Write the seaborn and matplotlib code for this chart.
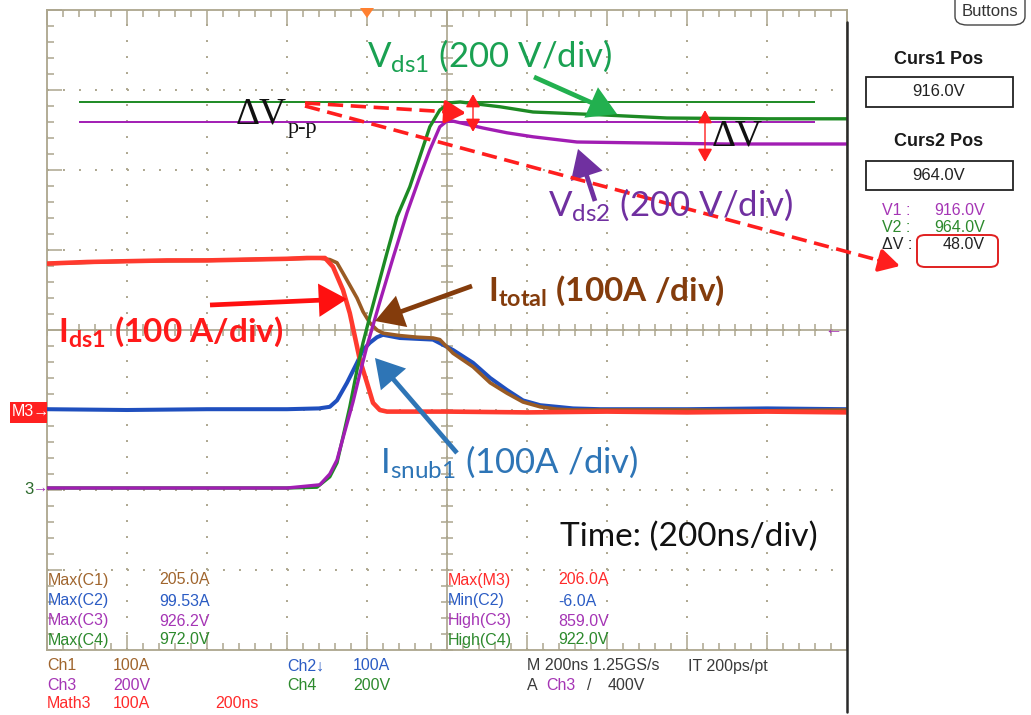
import numpy as np
import pandas as pd
import matplotlib
matplotlib.use("Agg")
import matplotlib.pyplot as plt
import seaborn as sns
from matplotlib.ticker import MultipleLocator
from matplotlib.patches import FancyArrowPatch, FancyBboxPatch, Rectangle, Polygon
from matplotlib.lines import Line2D

# ---------------- data ----------------
# time in ns (200 ns/div, trigger-centred), currents in A, voltages in V
t_ids1 = [-1000, -900, -800, -700, -600, -500, -400, -350, -305, -285, -260, -243, -230,
          -218, -200, -185, -168, -150, -100, 0, 200, 400, 600, 800, 1000]
i_ids1 = [183, 185, 186, 187, 187, 188, 189, 190, 190, 179, 150, 121, 91,
          63, 34, 9, 0, -2, -2, -2, -3, -2, -3, -2, -3]

t_itot = [-1000, -800, -600, -400, -320, -293, -275, -260, -243, -225, -210, -193, -175,
          -160, -118, -75, -35, -18, 15, 65, 108, 150, 190, 233, 275, 315, 400, 600, 800, 1000]
i_itot = [183, 186, 187, 189, 190, 188, 184, 171, 156, 140, 123, 109, 100,
          96, 93, 91, 90, 88, 71, 54, 34, 21, 10, 4, 1, 0, 0, 0, -1, 0]

t_isnub = [-1000, -800, -600, -400, -320, -293, -275, -250, -225, -210, -193, -175, -160,
           -118, -35, 15, 65, 108, 150, 190, 233, 275, 315, 383, 600, 800, 1000]
i_isnub = [1, 0, 1, 1, 2, 4, 12, 34, 59, 75, 84, 91, 94,
           90, 88, 75, 59, 40, 25, 12, 6, 4, 2, 1, 1, 2, 1]

t_vds1 = [-1000, -800, -600, -400, -325, -293, -275, -260, -243, -225, -210, -193, -175,
          -150, -125, -93, -68, -43, -18, 8, 33, 133, 215, 383, 550, 800, 1000]
v_vds1 = [0, 0, 0, 0, 2, 28, 63, 128, 203, 295, 363, 428, 495,
          588, 678, 753, 828, 903, 945, 963, 965, 953, 940, 933, 925, 923, 923]

t_vds2 = [-1000, -800, -600, -400, -318, -293, -275, -260, -235, -218, -200, -168, -135,
          -100, -68, -43, -18, 3, 33, 90, 150, 215, 325, 465, 700, 1000]
v_vds2 = [0, 0, 0, 0, 8, 35, 70, 125, 215, 285, 355, 465, 575,
          688, 778, 845, 903, 920, 913, 900, 888, 878, 865, 863, 860, 860]

cursor_volts = [916.0, 964.0]          # Curs1 (Vds2), Curs2 (Vds1)
cursor_span = [-920, 920]              # ns

meas_left_labels = ["Max(C1)", "Max(C2)", "Max(C3)", "Max(C4)"]
meas_left_values = ["205.0A", "99.53A", "926.2V", "972.0V"]
meas_right_labels = ["Max(M3)", "Min(C2)", "High(C3)", "High(C4)"]
meas_right_values = ["206.0A", "-6.0A", "859.0V", "922.0V"]

# ---------------- style ----------------
sns.set_theme(style="white")
plt.rcParams.update({
    "lines.scale_dashes": False,
    "mathtext.fontset": "custom",
    "mathtext.rm": "Lato",
    "mathtext.bf": "Lato:bold",
    "mathtext.it": "Lato:italic",
})
plt.rcParams["font.family"] = ["Lato", "DejaVu Sans"]

GRID = "#aca68e"
C_RED, C_BROWN, C_BLUE, C_GREEN, C_PURPLE = "#ff3a2e", "#9a5b24", "#1f4fbe", "#1d8a24", "#a11db3"
L_GREEN, L_PURPLE, L_BROWN, L_RED, L_BLUE = "#1aa152", "#7030a0", "#843c0c", "#ff1a1a", "#2e75b6"
S_BROWN, S_BLUE, S_PURPLE, S_GREEN, S_RED = "#a0652d", "#2b5cc4", "#a535b5", "#2d8a2d", "#ff2a2a"
SCOPE_FONT = ["Liberation Sans", "DejaVu Sans"]

W, H = 1031, 715
fig = plt.figure(figsize=(W / 100, H / 100), dpi=100)
fig.patch.set_facecolor("white")


def fp(x, y):
    return (x / W, 1 - y / H)


# ---------------- scope grid ----------------
ax = fig.add_axes([47 / W, 1 - 650 / H, 800 / W, 640 / H])
ax.set_facecolor("white")
ax.set_xlim(-1000, 1000)
ax.set_ylim(-300, 500)
ax.xaxis.set_major_locator(MultipleLocator(200))
ax.xaxis.set_minor_locator(MultipleLocator(40))
ax.yaxis.set_major_locator(MultipleLocator(100))
ax.yaxis.set_minor_locator(MultipleLocator(20))
ax.tick_params(which="both", direction="in", top=True, right=True, bottom=True, left=True,
               labelbottom=False, labelleft=False, color=GRID, width=1.1)
ax.tick_params(which="major", length=11)
ax.tick_params(which="minor", length=5)
for s in ax.spines.values():
    s.set_color(GRID)
    s.set_linewidth(1.3)
ax.grid(True, which="major", color=GRID, linestyle=(0, (1.4, 10.12)), linewidth=1.4)
ax.axhline(100, color=GRID, lw=1.2, zorder=1)
ax.axvline(0, color=GRID, lw=1.2, zorder=1)
xt = np.arange(-1000, 1001, 40)
yt = np.arange(-300, 501, 20)
ax.plot(xt, np.full(len(xt), 100), ls="none", marker="|", ms=9, mew=1.1, color=GRID, zorder=1)
ax.plot(np.zeros(len(yt)), yt, ls="none", marker="_", ms=9, mew=1.1, color=GRID, zorder=1)

# ---------------- traces ----------------
sns.lineplot(x=t_isnub, y=i_isnub, ax=ax, color=C_BLUE, lw=2.9, estimator=None, sort=False, zorder=3)
sns.lineplot(x=t_itot, y=i_itot, ax=ax, color=C_BROWN, lw=2.6, estimator=None, sort=False, zorder=4)
sns.lineplot(x=t_ids1, y=i_ids1, ax=ax, color=C_RED, lw=3.3, estimator=None, sort=False, zorder=5)
ax.set_xlim(-1000, 1000)
ax.set_ylim(-300, 500)
ax.set_xlabel("")
ax.set_ylabel("")

axv = ax.twinx()
sns.lineplot(x=t_vds1, y=v_vds1, ax=axv, color=C_GREEN, lw=2.4, estimator=None, sort=False, zorder=3)
sns.lineplot(x=t_vds2, y=v_vds2, ax=axv, color=C_PURPLE, lw=2.4, estimator=None, sort=False, zorder=4)
axv.hlines(cursor_volts[1], cursor_span[0], cursor_span[1], color=C_GREEN, lw=1.4, zorder=2)
axv.hlines(cursor_volts[0], cursor_span[0], cursor_span[1], color=C_PURPLE, lw=1.4, zorder=2)
axv.set_ylim(-405, 1195)
axv.set_xlim(-1000, 1000)
axv.axis("off")

# right dark screen border
fig.add_artist(Line2D([847 / W, 847 / W], [1 - 22 / H, 1 - 712 / H], transform=fig.transFigure,
                      color="#2a2a2a", lw=1.8))

# trigger marker (top) and ground markers
fig.add_artist(Polygon([fp(360, 8), fp(374, 8), fp(367, 18)], closed=True, transform=fig.transFigure,
                       facecolor="#ff8030", edgecolor="none"))
fig.add_artist(Rectangle(fp(10, 423), 37 / W, 21 / H, transform=fig.transFigure,
                         facecolor="#ff2020", edgecolor="none"))
fig.text(*fp(12, 412), "M3\u2192", color="white", fontsize=11.5, va="center", ha="left", family=SCOPE_FONT)
fig.text(*fp(24, 489), "3", color="#2d6a2d", fontsize=12, va="center", ha="left", family=SCOPE_FONT)
fig.text(*fp(33, 488), "\u2192", color=S_PURPLE, fontsize=11, va="center", ha="left", family=SCOPE_FONT)
fig.text(*fp(824, 330), "\u2190", color=S_PURPLE, fontsize=13, va="center", ha="left", family=SCOPE_FONT)

# ---------------- measurement read-outs ----------------
left_cols = [S_BROWN, S_BLUE, S_PURPLE, S_GREEN]
right_cols = [S_RED, S_BLUE, S_PURPLE, S_GREEN]
rows_y = [580, 601, 621, 640]
for lab, val, c, y in zip(meas_left_labels, meas_left_values, left_cols, rows_y):
    fig.text(*fp(48, y), lab, color=c, fontsize=11.5, va="center", family=SCOPE_FONT)
    fig.text(*fp(159, y), val, color=c, fontsize=11.5, va="center", family=SCOPE_FONT)
for lab, val, c, y in zip(meas_right_labels, meas_right_values, right_cols, rows_y):
    fig.text(*fp(448, y), lab, color=c, fontsize=11.5, va="center", family=SCOPE_FONT)
    fig.text(*fp(558, y), val, color=c, fontsize=11.5, va="center", family=SCOPE_FONT)

status = [
    (47, 666, "Ch1", S_BROWN), (113, 666, "100A", S_BROWN),
    (47, 685, "Ch3", S_PURPLE), (113, 685, "200V", S_PURPLE),
    (47, 704, "Math3", S_RED), (113, 704, "100A", S_RED), (215, 704, "200ns", S_RED),
    (287, 666, "Ch2\u2193", S_BLUE), (353, 666, "100A", S_BLUE),
    (287, 685, "Ch4", S_GREEN), (353, 685, "200V", S_GREEN),
    (527, 666, "M 200ns 1.25GS/s", "#3a3a3a"), (688, 666, "IT 200ps/pt", "#3a3a3a"),
    (527, 685, "A", "#3a3a3a"), (546, 685, "Ch3", S_PURPLE), (587, 685, "/", "#3a3a3a"),
    (608, 685, "400V", "#3a3a3a"),
]
for x, y, s, c in status:
    fig.text(*fp(x, y), s, color=c, fontsize=11.5, va="center", family=SCOPE_FONT)

# ---------------- right cursor panel ----------------
fig.add_artist(FancyBboxPatch(fp(955, 25), 70 / W, 40 / H, boxstyle="round,pad=0,rounding_size=0.012",
                              transform=fig.transFigure, facecolor="white", edgecolor="#444444", lw=1.0))
fig.text(*fp(990, 11), "Buttons", color="#333333", fontsize=12, ha="center", va="center", family=SCOPE_FONT)
fig.text(*fp(939, 59), "Curs1 Pos", color="#1a1a1a", fontsize=13, weight="bold", ha="center", va="center",
         family=SCOPE_FONT)
fig.add_artist(Rectangle(fp(866, 107), 147 / W, 30 / H, transform=fig.transFigure, facecolor="white",
                         edgecolor="#222222", lw=1.3))
fig.text(*fp(939, 92), f"{cursor_volts[0]:.1f}V", color="#222222", fontsize=12, ha="center", va="center",
         family=SCOPE_FONT)
fig.text(*fp(939, 142), "Curs2 Pos", color="#1a1a1a", fontsize=13, weight="bold", ha="center", va="center",
         family=SCOPE_FONT)
fig.add_artist(Rectangle(fp(866, 190), 147 / W, 29 / H, transform=fig.transFigure, facecolor="white",
                         edgecolor="#222222", lw=1.3))
fig.text(*fp(939, 175), f"{cursor_volts[1]:.1f}V", color="#222222", fontsize=12, ha="center", va="center",
         family=SCOPE_FONT)
fig.text(*fp(882, 210), "V1 :", color=S_PURPLE, fontsize=11.5, va="center", family=SCOPE_FONT)
fig.text(*fp(985, 210), f"{cursor_volts[0]:.1f}V", color=S_PURPLE, fontsize=11.5, va="center", ha="right",
         family=SCOPE_FONT)
fig.text(*fp(882, 227), "V2 :", color=S_GREEN, fontsize=11.5, va="center", family=SCOPE_FONT)
fig.text(*fp(985, 227), f"{cursor_volts[1]:.1f}V", color=S_GREEN, fontsize=11.5, va="center", ha="right",
         family=SCOPE_FONT)
fig.text(*fp(882, 244), "\u0394V :", color="#222222", fontsize=11.5, va="center", family=SCOPE_FONT)
fig.text(*fp(985, 244), f"{cursor_volts[1] - cursor_volts[0]:.1f}V", color="#222222", fontsize=11.5,
         va="center", ha="right", family=SCOPE_FONT)
fig.add_artist(FancyBboxPatch(fp(917, 267), 81 / W, 32 / H, boxstyle="round,pad=0,rounding_size=0.008",
                              transform=fig.transFigure, facecolor="none", edgecolor="#e02020", lw=1.4))


# ---------------- annotations ----------------
def arrow(p0, p1, color, lw=3.4, ms=18, style="-|>,head_length=0.85,head_width=0.5"):
    fig.add_artist(FancyArrowPatch(fp(*p0), fp(*p1), transform=fig.transFigure, arrowstyle=style,
                                   mutation_scale=ms, color=color, lw=lw, shrinkA=0, shrinkB=0,
                                   joinstyle="miter", capstyle="butt"))


def dashed_arrow(p0, p1, color, lw=2.6):
    p0 = np.array(p0, float)
    p1 = np.array(p1, float)
    d = (p1 - p0) / np.hypot(*(p1 - p0))
    pe = p1 - d * 12
    fig.add_artist(Line2D([fp(*p0)[0], fp(*pe)[0]], [fp(*p0)[1], fp(*pe)[1]], transform=fig.transFigure,
                          color=color, lw=lw, linestyle=(0, (11, 5.5)), solid_capstyle="butt",
                          dash_capstyle="butt"))
    fig.add_artist(FancyArrowPatch(fp(*(p1 - d * 22)), fp(*p1), transform=fig.transFigure,
                                   arrowstyle="-|>,head_length=0.9,head_width=0.5", mutation_scale=14,
                                   color=color, lw=lw, shrinkA=0, shrinkB=0))


# dashed red arrows from Delta V p-p
dashed_arrow((305, 103), (466, 113), "#ff1e1e")
dashed_arrow((305, 106), (900, 266), "#ff1e1e")

# small double-headed red arrows
arrow((473, 94), (473, 132), "#ff1e1e", lw=1.0, ms=9, style="<|-|>,head_length=0.9,head_width=0.5")
arrow((705, 110), (705, 162), "#ff1e1e", lw=1.0, ms=9, style="<|-|>,head_length=0.9,head_width=0.5")

# label arrows
arrow((534, 77), (617, 114), "#22b04f")
arrow((595, 201), (578, 149), L_PURPLE)
arrow((472, 286), (375, 321), L_BROWN)
arrow((210, 305), (347, 299), "#ff1010")
arrow((457, 453), (375, 358), L_BLUE)

# text labels
fig.text(*fp(367, 67), r"$\mathrm{V}_{\mathrm{ds1}}$ (200 V/div)", color=L_GREEN, fontsize=25,
         va="baseline", ha="left")
fig.text(*fp(548, 216), r"$\mathrm{V}_{\mathrm{ds2}}$ (200 V/div)", color=L_PURPLE, fontsize=25,
         va="baseline", ha="left")
fig.text(*fp(488, 301), r"$\mathbf{I}_{\mathbf{total}}$ (100A /div)", color=L_BROWN, fontsize=24,
         weight="bold", va="baseline", ha="left")
fig.text(*fp(58, 342), r"$\mathbf{I}_{\mathbf{ds1}}$ (100 A/div)", color=L_RED, fontsize=24,
         weight="bold", va="baseline", ha="left")
fig.text(*fp(380, 473), r"$\mathrm{I}_{\mathrm{snub1}}$ (100A /div)", color=L_BLUE, fontsize=25,
         va="baseline", ha="left")
fig.text(*fp(560, 546), "Time: (200ns/div)", color="#111111", fontsize=24, va="baseline", ha="left")

SERIF = ["Liberation Serif", "DejaVu Serif"]
fig.text(*fp(236, 124), "\u0394V", color="#111111", fontsize=27, va="baseline", ha="left", family=SERIF)
fig.text(*fp(288, 133), "p-p", color="#111111", fontsize=16, va="baseline", ha="left", family=SERIF)
fig.text(*fp(712, 146), "\u0394V", color="#111111", fontsize=27, va="baseline", ha="left", family=SERIF)

fig.savefig("out.png", dpi=100, facecolor="white")
